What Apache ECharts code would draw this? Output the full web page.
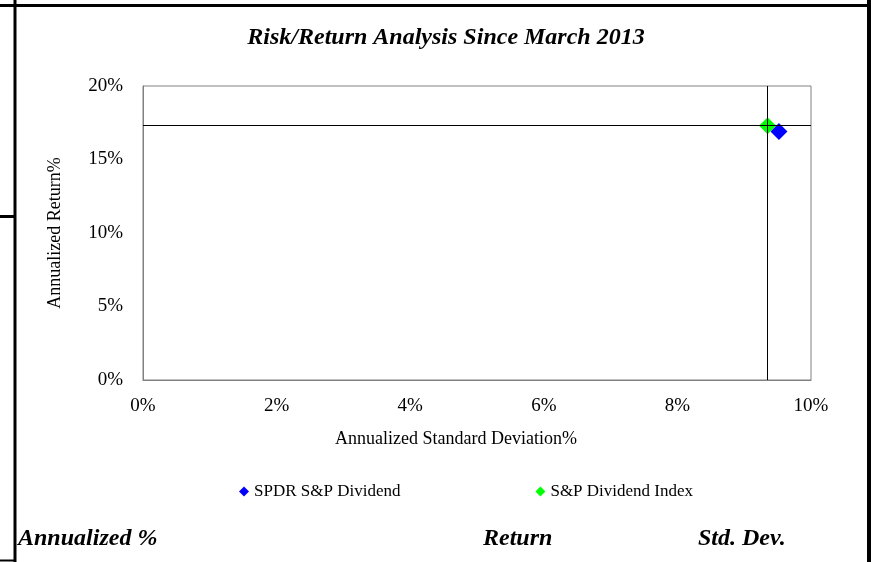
<!DOCTYPE html>
<html>
<head>
<meta charset="utf-8">
<script src="https://cdn.jsdelivr.net/npm/echarts@6/dist/echarts.min.js"></script>
<style>
html,body{margin:0;padding:0;background:#fff;}
#chart{width:871px;height:562px;}
</style>
</head>
<body>
<div id="chart"></div>
<script>
const seriesNames = ["SPDR S&P Dividend", "S&P Dividend Index"];
const stdDev = [9.52, 9.35];
const annReturn = [16.91, 17.30];
const seriesColors = ["#0000FF", "#00FF00"];
const xTicks = { min: 0, max: 10, interval: 2 };
const yTicks = { min: 0, max: 20, interval: 5 };
const footerLabels = ["Annualized %", "Return", "Std. Dev."];

const FONT = "'Liberation Serif', 'Times New Roman', serif";
const chart = echarts.init(document.getElementById('chart'), null, { renderer: 'canvas' });

const scatterSeries = seriesNames.map((n, i) => ({
  name: n,
  type: 'scatter',
  symbol: 'diamond',
  symbolSize: 17,
  z: 3,
  itemStyle: { color: seriesColors[i], opacity: 1 },
  data: [[stdDev[i], annReturn[i]]]
}));

const idx = 1; // crosshair through the index
const guideSeries = {
  name: 'guide',
  type: 'line',
  data: [],
  z: 1,
  silent: true,
  markLine: {
    silent: true,
    symbol: ['none', 'none'],
    label: { show: false },
    lineStyle: { color: '#000', width: 1, type: 'solid' },
    animation: false,
    data: [{ xAxis: stdDev[idx] }, { yAxis: annReturn[idx] }]
  }
};

const line = (x1, y1, x2, y2, w) => ({
  type: 'line', silent: true,
  shape: { x1, y1, x2, y2 },
  style: { stroke: '#000', lineWidth: w }
});
const footer = (x, t) => ({
  type: 'text', left: x, top: 527, silent: true,
  style: { text: t, font: "italic bold 24px " + FONT, fill: '#000' }
});

chart.setOption({
  animation: false,
  backgroundColor: '#fff',
  title: {
    text: 'Risk/Return Analysis Since March 2013',
    left: 441, top: 21, textAlign: 'center',
    textStyle: { fontFamily: FONT, fontSize: 24, fontWeight: 'bold', fontStyle: 'italic', color: '#000' }
  },
  legend: {
    data: seriesNames,
    left: 234, top: 478,
    icon: 'diamond',
    itemWidth: 10, itemHeight: 10,
    itemGap: 135,
    textStyle: { fontFamily: FONT, fontSize: 17, color: '#000' }
  },
  grid: { left: 143, top: 86, right: 60, bottom: 182, show: true, borderColor: '#808080', borderWidth: 1 },
  xAxis: {
    type: 'value', min: xTicks.min, max: xTicks.max, interval: xTicks.interval,
    name: 'Annualized Standard Deviation%', nameLocation: 'middle', nameGap: 50,
    nameTextStyle: { fontFamily: FONT, fontSize: 18, color: '#000', padding: [0, 42, 0, 0] },
    axisLine: { show: true, lineStyle: { color: '#808080', width: 1 } },
    axisTick: { show: false },
    splitLine: { show: false },
    axisLabel: { formatter: '{value}%', fontFamily: FONT, fontSize: 19, color: '#000', margin: 17 }
  },
  yAxis: {
    type: 'value', min: yTicks.min, max: yTicks.max, interval: yTicks.interval,
    name: 'Annualized Return%', nameLocation: 'middle', nameGap: 79, nameRotate: 90,
    nameTextStyle: { fontFamily: FONT, fontSize: 18, color: '#000' },
    axisLine: { show: true, lineStyle: { color: '#808080', width: 1 } },
    axisTick: { show: false },
    splitLine: { show: false },
    axisLabel: { formatter: '{value}%', fontFamily: FONT, fontSize: 19, color: '#000', margin: 20, padding: [4, 0, 0, 0] }
  },
  series: [guideSeries].concat(scatterSeries),
  graphic: [
    line(0, 5.5, 868, 5.5, 3),
    line(15, 0, 15, 562, 3),
    line(869, 0, 869, 562, 4),
    line(0, 216.5, 15, 216.5, 3),
    line(0, 560.5, 15, 560.5, 2),
    footer(18, footerLabels[0]),
    footer(483, footerLabels[1]),
    footer(698, footerLabels[2])
  ]
});
</script>
</body>
</html>
